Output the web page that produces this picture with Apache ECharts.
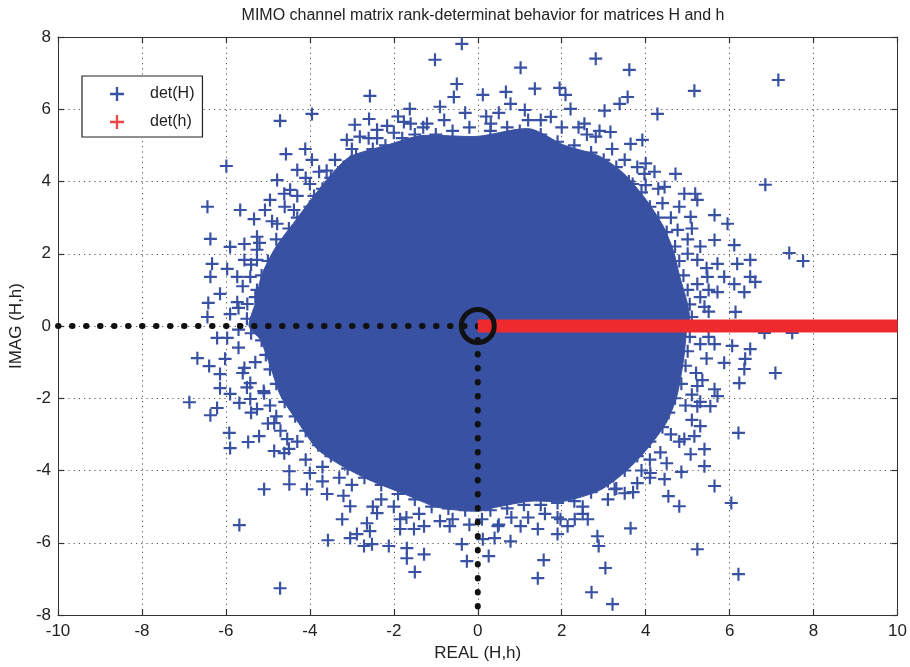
<!DOCTYPE html>
<html>
<head>
<meta charset="utf-8">
<script src="https://cdn.jsdelivr.net/npm/echarts@6/dist/echarts.min.js"></script>
<style>
  html, body { margin: 0; padding: 0; background: #ffffff; }
  #chart { width: 910px; height: 667px; }
</style>
</head>
<body>
<div id="chart"></div>
<script>
// ---------------- DATA ----------------
const titleText = 'MIMO channel matrix rank-determinat behavior for matrices H and h';
const xName = 'REAL (H,h)';
const yName = 'IMAG (H,h)';
const xTicks = [-10, -8, -6, -4, -2, 0, 2, 4, 6, 8, 10];
const yTicks = [-8, -6, -4, -2, 0, 2, 4, 6, 8];

// outline of the saturated (fully overlapping) core of det(H) points, [real, imag]
const detHCoreOutline = [
  [-5.45, 0.00], [-5.30, 0.63], [-5.15, 1.40], [-4.82, 2.17], [-4.35, 2.91], [-3.85, 3.68],
  [-3.45, 4.25], [-3.04, 4.69], [-2.18, 5.00], [-1.34, 5.27], [0.00, 5.25], [1.23, 5.46],
  [2.05, 5.01], [2.90, 4.70], [3.48, 4.22], [3.98, 3.54], [4.41, 2.78], [4.66, 2.08],
  [4.80, 1.42], [4.99, 0.64], [5.05, 0.18], [4.99, 0.00], [4.90, -0.95], [4.74, -1.95],
  [4.48, -2.70], [3.98, -3.48], [3.48, -4.07], [2.90, -4.55], [2.06, -4.85], [1.25, -4.85],
  [0.42, -5.02], [0.00, -5.13], [-0.95, -5.02], [-1.77, -4.64], [-2.59, -4.26], [-3.27, -3.85],
  [-3.83, -3.40], [-4.26, -2.70], [-4.69, -1.95], [-4.93, -1.16], [-5.18, -0.38]
];

// densely packed det(H) points along the edge of the core
const detHFringe = [
  [-4.9, 1.0], [-5.1, 0.3], [-5.0, 1.8], [-4.8, 2.4], [-4.5, 2.7], [-4.3, 3.0], [-4.0, 3.3], [-3.7, 3.8],
  [-3.5, 4.1], [-3.2, 4.4], [-2.9, 4.7], [-2.5, 4.9], [-2.2, 5.0], [-1.8, 5.2], [-1.5, 5.3], [-1.0, 5.3],
  [-0.6, 5.4], [-0.2, 5.5], [-3.9, 3.6], [-4.2, 2.5], [-4.7, 1.6], [-5.3, 0.8], [-5.5, 0.2], [-3.4, 4.6],
  [-2.6, 5.2], [-1.3, 5.5], [-0.3, 5.9], [-2.0, 5.35], [-4.55, 2.05], [-5.15, 1.4],
  [-5.6, 1.1], [-5.4, 1.7], [-5.2, 2.3], [-4.9, 2.9], [-4.6, 3.3], [-4.3, 3.6], [-3.6, 4.3], [-3.0, 4.9],
  [-2.4, 5.2], [-1.6, 5.6], [-0.8, 5.7], [-5.7, 0.5], [-4.1, 4.1], [-1.9, 5.8], [-3.3, 4.0],
  [0.3, 5.4], [0.7, 5.5], [1.0, 5.4], [1.5, 5.3], [1.9, 5.1], [2.3, 5.0], [2.7, 4.8], [3.0, 4.6],
  [3.3, 4.4], [3.6, 4.0], [3.9, 3.7], [4.1, 3.3], [4.3, 3.0], [4.5, 2.6], [4.7, 2.2], [4.8, 1.8],
  [4.9, 1.4], [5.0, 1.0], [5.05, 0.6], [5.1, 0.25], [2.0, 5.5], [1.2, 5.7], [3.5, 4.6], [4.0, 3.9],
  [4.6, 3.0], [5.0, 2.0], [5.3, 0.8], [0.2, 5.8], [2.6, 5.3], [4.4, 3.4],
  [0.5, 5.9], [1.5, 5.7], [2.4, 5.5], [3.2, 4.9], [3.8, 4.4], [4.3, 3.8], [4.8, 3.3], [5.1, 2.7],
  [5.3, 2.2], [5.45, 1.6], [5.5, 1.0], [5.5, 0.4], [4.0, 4.5], [2.9, 5.4], [5.0, 2.4],
  [5.05, -0.3], [5.0, -0.7], [4.95, -1.1], [4.85, -1.6], [4.7, -2.0], [4.55, -2.4], [4.4, -2.8], [4.1, -3.2],
  [3.8, -3.6], [3.5, -4.0], [3.1, -4.3], [2.7, -4.6], [2.3, -4.85], [1.9, -4.9], [1.5, -4.95], [1.1, -4.95],
  [0.7, -5.05], [0.3, -5.1], [5.3, -0.5], [5.2, -1.3], [4.95, -2.2], [4.6, -3.0], [4.1, -3.7], [3.3, -4.5],
  [2.5, -5.0], [1.6, -5.2], [0.8, -5.3], [4.35, -3.5], [5.1, -1.9], [0.1, -5.35],
  [5.5, -0.3], [5.45, -0.9], [5.35, -1.5], [5.3, -2.1], [5.1, -2.6], [4.8, -3.2], [4.5, -3.8], [4.1, -4.2],
  [3.7, -4.6], [3.1, -4.8], [2.5, -5.2], [1.9, -5.3], [1.2, -5.3], [0.5, -5.5], [3.9, -4.0],
  [-0.3, -5.1], [-0.7, -5.05], [-1.1, -5.0], [-1.5, -4.8], [-1.9, -4.65], [-2.3, -4.4], [-2.7, -4.2], [-3.1, -3.95],
  [-3.5, -3.6], [-3.8, -3.3], [-4.1, -2.9], [-4.35, -2.5], [-4.6, -2.1], [-4.8, -1.6], [-4.95, -1.2], [-5.05, -0.8],
  [-5.15, -0.4], [-5.4, -0.2], [-5.3, -1.0], [-5.1, -1.8], [-4.8, -2.5], [-4.3, -3.2], [-3.7, -3.9], [-3.0, -4.4],
  [-2.3, -4.8], [-1.4, -5.2], [-0.6, -5.35], [-4.95, -2.2], [-3.3, -4.2], [-2.0, -5.0],
  [-0.2, -5.5], [-0.9, -5.4], [-1.7, -5.3], [-2.5, -5.0], [-3.2, -4.7], [-3.7, -4.3], [-4.1, -3.7], [-4.5, -3.4],
  [-4.7, -2.9], [-5.0, -2.7], [-5.4, -2.4], [-5.5, -1.7], [-5.6, -1.3], [-5.7, -0.6], [-5.7, -0.1]
];

// individually visible det(H) points, by quadrant
const detHUpperLeft = [
  [-0.38, 7.81], [-1.02, 7.37], [-0.50, 6.70], [-0.57, 6.34], [-2.57, 6.37], [-1.62, 6.01],
  [-3.95, 5.87], [-4.71, 5.68], [-2.59, 5.73], [-2.93, 5.57], [-2.40, 5.43], [-2.16, 5.54],
  [-1.76, 5.65], [-1.21, 5.60], [-0.90, 6.07], [-4.57, 4.76], [-4.11, 4.90], [-3.95, 4.60],
  [-5.99, 4.43], [-4.30, 4.32], [-3.78, 4.27], [-3.12, 5.15], [-2.81, 5.24], [-4.78, 4.04],
  [-4.61, 3.66], [-4.47, 3.77], [-4.00, 3.93], [-4.95, 3.49], [-6.44, 3.30], [-5.66, 3.21],
  [-5.33, 2.96], [-5.07, 3.21], [-4.78, 2.83], [-4.38, 3.21], [-5.26, 2.47], [-6.37, 2.41],
  [-5.90, 2.19], [-5.56, 2.27], [-5.26, 2.11], [-6.33, 1.72], [-5.97, 1.58], [-5.56, 1.83],
  [-5.26, 1.83], [-6.37, 1.36], [-5.73, 1.36], [-5.42, 1.36], [-6.14, 0.89], [-6.42, 0.64],
  [-5.73, 0.66], [-5.90, 0.33], [-6.44, 0.25], [-5.49, 0.61], [-5.26, 1.00]
];
const detHUpperRight = [
  [1.02, 7.15], [2.81, 7.40], [3.61, 7.09], [7.16, 6.81], [5.16, 6.51], [1.36, 6.57],
  [1.95, 6.59], [2.09, 6.40], [0.67, 6.48], [0.12, 6.40], [3.57, 6.34], [3.38, 6.15],
  [4.28, 5.87], [3.02, 5.96], [2.21, 6.01], [1.74, 5.79], [2.54, 5.60], [3.16, 5.37],
  [3.64, 5.04], [3.92, 5.15], [2.81, 5.24], [1.12, 5.98], [0.78, 6.15], [0.31, 5.60],
  [4.21, 4.27], [4.71, 4.21], [3.97, 4.21], [6.85, 3.91], [4.92, 3.66], [5.18, 3.66],
  [5.23, 3.49], [4.45, 3.85], [3.69, 3.93], [5.64, 3.07], [5.95, 2.83], [5.07, 3.02],
  [4.76, 2.66], [5.64, 2.38], [6.11, 2.24], [7.42, 2.02], [7.75, 1.80], [6.49, 1.83],
  [6.18, 1.72], [5.71, 1.72], [5.23, 1.83], [5.47, 1.36], [5.87, 1.36], [6.49, 1.36],
  [6.61, 1.22], [5.71, 0.94], [6.35, 0.94], [6.11, 1.16], [6.14, 0.39], [5.40, 0.53],
  [5.23, 1.16]
];
const detHLowerLeft = [
  [-6.21, -0.33], [-5.97, -0.33], [-6.68, -0.89], [-6.40, -1.11], [-6.02, -0.91], [-6.14, -1.33],
  [-6.14, -1.72], [-6.87, -2.11], [-6.37, -2.47], [-6.21, -2.27], [-5.90, -1.88], [-5.68, -2.13],
  [-5.92, -2.96], [-5.90, -3.38], [-5.47, -3.21], [-5.21, -3.05], [-5.42, -2.02], [-5.26, -2.30],
  [-5.09, -4.52], [-5.68, -5.51], [-4.71, -7.26], [-4.49, -4.02], [-4.49, -4.38], [-4.07, -4.52],
  [-3.59, -4.65], [-3.23, -5.35], [-3.57, -5.93], [-3.04, -5.87], [-2.71, -6.09], [-2.52, -6.04],
  [-2.12, -6.09], [-1.69, -6.15], [-1.28, -6.32], [-1.50, -6.81], [-1.69, -6.43], [-0.26, -6.51],
  [-0.38, -6.04], [-1.85, -5.62], [-2.57, -5.68], [-2.88, -5.76], [-4.85, -3.46], [-4.61, -3.52],
  [-4.85, -2.69], [-4.54, -3.13], [-4.00, -4.07], [-5.09, -1.86], [-5.56, -1.16], [-5.42, -1.58],
  [-3.04, -4.99], [-2.64, -5.46], [-2.40, -5.18], [-1.52, -5.62], [-1.28, -5.54], [-0.67, -5.54],
  [-1.85, -5.35]
];
const detHLowerRight = [
  [0.26, -6.37], [1.57, -6.48], [1.43, -6.98], [2.71, -7.37], [3.21, -7.70], [3.04, -6.70],
  [2.85, -5.82], [2.88, -6.09], [3.64, -5.60], [5.23, -6.18], [6.21, -6.87], [6.04, -4.90],
  [5.64, -4.43], [4.80, -4.99], [4.54, -4.71], [6.21, -2.96], [7.09, -1.30], [3.50, -4.63],
  [0.78, -5.96], [0.40, -5.87], [0.12, -5.90], [1.43, -5.62], [1.90, -5.76], [2.14, -5.54],
  [2.62, -5.35], [2.31, -5.35], [5.40, -3.88], [5.07, -3.55], [4.85, -4.04], [5.40, -3.41],
  [5.16, -3.05], [4.92, -3.13], [5.30, -2.77], [5.23, -2.22], [5.54, -2.22], [5.64, -1.75],
  [5.71, -1.94], [6.23, -1.58], [6.35, -1.19], [5.87, -1.02], [6.37, -0.91], [6.49, -0.64],
  [6.06, -0.55], [5.64, -0.50], [5.23, -1.66], [4.45, -4.24], [4.11, -4.07], [3.80, -4.35],
  [3.26, -4.52], [1.97, -5.35], [1.02, -5.54], [0.48, -5.54], [6.83, -0.19], [7.49, -0.19]
];

// det(h): purely real values, spread along the positive real axis
const detHSmall = [[0, 0], [10, 0]];

// reference guides: dotted lines to the origin and the origin circle
const guideHorizontal = [[-10, 0], [0, 0]];
const guideVertical = [[0, 0], [0, -8]];
const originPoint = [[0, 0]];

// ---------------- STYLE ----------------
const BLUE = '#3851a2';
const RED = '#ee2a2e';
const FONT = '"Liberation Sans", Arial, Helvetica, sans-serif';
const PLUS = 'path://M5,0h2v5h5v2h-5v5h-2v-5h-5v-2h5z';

const chart = echarts.init(document.getElementById('chart'), null, { renderer: 'canvas' });

const gridRect = { left: 57, right: 12, top: 37, bottom: 52 };
const baseAxis = {
  interval: 2,
  axisLine: { show: true, onZero: false, lineStyle: { color: '#333', width: 1 } },
  axisTick: { show: true, inside: true, length: 6, lineStyle: { color: '#333', width: 1.2 } },
  splitLine: { show: false },
  axisLabel: { show: false }
};

const allBlue = detHFringe.concat(detHUpperLeft, detHUpperRight, detHLowerLeft, detHLowerRight);

const option = {
  backgroundColor: '#ffffff',
  animation: false,
  title: {
    text: titleText,
    left: 478, top: 3, textAlign: 'center',
    textStyle: { fontFamily: FONT, fontSize: 16, fontWeight: 'normal', color: '#222' }
  },
  legend: {
    orient: 'vertical',
    left: 82, top: 76,
    padding: [10, 8, 7, 28],
    itemGap: 12,
    itemWidth: 14, itemHeight: 14,
    backgroundColor: '#ffffff',
    borderColor: '#222', borderWidth: 1.2,
    textStyle: { fontFamily: FONT, fontSize: 16, color: '#222', padding: [0, 0, 0, 21] },
    data: [
      { name: 'det(H)', icon: PLUS, itemStyle: { color: BLUE } },
      { name: 'det(h)', icon: PLUS, itemStyle: { color: '#f24646' } }
    ],
    z: 20
  },
  grid: gridRect,
  xAxis: [
    Object.assign({}, baseAxis, {
      type: 'value', position: 'bottom', min: xTicks[0], max: xTicks[xTicks.length - 1],
      name: xName, nameLocation: 'middle', nameGap: 30,
      nameTextStyle: { fontFamily: FONT, fontSize: 17, color: '#222' },
      axisLabel: { show: true, fontFamily: FONT, fontSize: 17, color: '#222', margin: 8 },
      splitLine: { show: true, lineStyle: { color: '#555', width: 1, type: [1.2, 4] } }
    }),
    Object.assign({}, baseAxis, {
      type: 'value', position: 'top', min: xTicks[0], max: xTicks[xTicks.length - 1]
    })
  ],
  yAxis: [
    Object.assign({}, baseAxis, {
      type: 'value', position: 'left', min: yTicks[0], max: yTicks[yTicks.length - 1],
      name: yName, nameLocation: 'middle', nameGap: 33, nameRotate: 90,
      nameTextStyle: { fontFamily: FONT, fontSize: 17, color: '#222' },
      axisLabel: { show: true, fontFamily: FONT, fontSize: 17, color: '#222', margin: 7 },
      splitLine: { show: true, lineStyle: { color: '#555', width: 1, type: [1.2, 4] } }
    }),
    Object.assign({}, baseAxis, {
      type: 'value', position: 'right', min: yTicks[0], max: yTicks[yTicks.length - 1]
    })
  ],
  series: [
    {
      name: 'det(H)',
      type: 'custom',
      coordinateSystem: 'cartesian2d',
      silent: true,
      z: 2,
      data: detHCoreOutline,
      renderItem: function (params, api) {
        if (params.dataIndex !== 0) return null;
        const pts = detHCoreOutline.map(function (p) { return api.coord(p); });
        return {
          type: 'polygon',
          shape: { points: pts, smooth: 0.25 },
          style: { fill: BLUE, stroke: BLUE, lineWidth: 1 }
        };
      }
    },
    {
      name: 'det(H)',
      type: 'scatter',
      symbol: PLUS,
      symbolSize: 13,
      itemStyle: { color: BLUE, opacity: 1 },
      z: 3,
      silent: true,
      data: allBlue
    },
    {
      name: 'guideH',
      type: 'line',
      data: guideHorizontal,
      symbol: 'none',
      silent: true,
      z: 4,
      lineStyle: { color: '#111', width: 6, type: [0.5, 13.5], cap: 'round' }
    },
    {
      name: 'guideV',
      type: 'line',
      data: guideVertical,
      symbol: 'none',
      silent: true,
      z: 4,
      lineStyle: { color: '#111', width: 6, type: [0.5, 13.5], cap: 'round' }
    },
    {
      name: 'det(h)',
      type: 'line',
      data: detHSmall,
      symbol: 'none',
      silent: true,
      z: 5,
      itemStyle: { color: RED },
      lineStyle: { color: RED, width: 13, cap: 'butt' }
    },
    {
      name: 'origin',
      type: 'scatter',
      data: originPoint,
      symbol: 'circle',
      symbolSize: 33,
      silent: true,
      z: 6,
      itemStyle: { color: 'rgba(0,0,0,0)', borderColor: '#111', borderWidth: 5, opacity: 1 }
    }
  ]
};

chart.setOption(option);
</script>
</body>
</html>
